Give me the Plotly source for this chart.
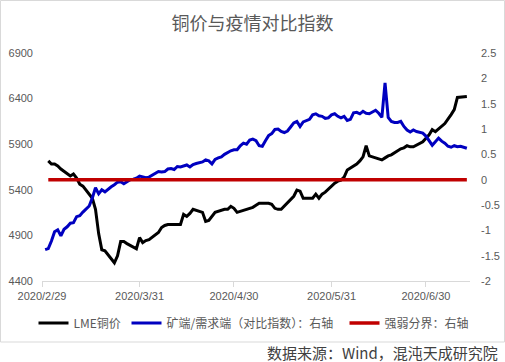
import plotly.graph_objects as go
import pandas as pd

TITLE = "铜价与疫情对比指数"
SOURCE = "数据来源：Wind，混沌天成研究院"

copper_dates = [
    "2020-03-02","2020-03-03","2020-03-04","2020-03-05","2020-03-06",
    "2020-03-09","2020-03-10","2020-03-11","2020-03-12","2020-03-13",
    "2020-03-16","2020-03-17","2020-03-18","2020-03-19","2020-03-20",
    "2020-03-23","2020-03-24","2020-03-25","2020-03-26","2020-03-27",
    "2020-03-30","2020-03-31","2020-04-01","2020-04-02","2020-04-03",
    "2020-04-06","2020-04-07","2020-04-08","2020-04-09","2020-04-10",
    "2020-04-13","2020-04-14","2020-04-15","2020-04-16","2020-04-17",
    "2020-04-20","2020-04-21","2020-04-22","2020-04-23","2020-04-24",
    "2020-04-27","2020-04-28","2020-04-29","2020-04-30","2020-05-01",
    "2020-05-04","2020-05-05","2020-05-06","2020-05-07","2020-05-08",
    "2020-05-11","2020-05-12","2020-05-13","2020-05-14","2020-05-15",
    "2020-05-18","2020-05-19","2020-05-20","2020-05-21","2020-05-22",
    "2020-05-25","2020-05-26","2020-05-27","2020-05-28","2020-05-29",
    "2020-06-01","2020-06-02","2020-06-03","2020-06-04","2020-06-05",
    "2020-06-08","2020-06-09","2020-06-10","2020-06-11","2020-06-12",
    "2020-06-15","2020-06-16","2020-06-17","2020-06-18","2020-06-19",
    "2020-06-22","2020-06-23","2020-06-24","2020-06-25","2020-06-26",
    "2020-06-29","2020-06-30","2020-07-01","2020-07-02","2020-07-03",
    "2020-07-06","2020-07-07","2020-07-08","2020-07-09","2020-07-10",
    "2020-07-13",
]
copper_values = [
    5717,5683,5683,5661,5628,
    5551,5573,5529,5462,5440,
    5307,5186,4920,4743,4732,
    4600,4677,4832,4832,4810,
    4754,4876,4821,4843,4854,
    4931,4987,5009,5020,5020,
    5020,5130,5108,5141,5186,
    5153,5053,5064,5108,5153,
    5186,5186,5219,5197,5153,
    5186,5197,5208,5230,5252,
    5252,5241,5197,5186,5186,
    5285,5329,5396,5385,5307,
    5307,5352,5307,5352,5374,
    5473,5495,5506,5540,5617,
    5683,5717,5761,5883,5772,
    5739,5728,5750,5772,5783,
    5849,5860,5883,5871,5871,
    5927,5960,6004,6059,6037,
    6126,6170,6225,6280,6413,
    6424,
]

index_start = "2020-03-01"
index_values = [
    -1.38,-1.36,-1.21,-1.03,-0.99,-1.11,-0.98,-0.93,-0.86,-0.85,
    -0.73,-0.71,-0.64,-0.58,-0.52,-0.36,-0.16,-0.28,-0.20,-0.24,
    -0.18,-0.14,-0.10,-0.05,-0.04,-0.08,-0.04,0.00,0.01,0.03,
    0.07,0.05,0.04,0.05,0.09,0.13,0.16,0.15,0.16,0.21,
    0.22,0.20,0.26,0.25,0.27,0.29,0.25,0.30,0.32,0.33,
    0.35,0.39,0.37,0.31,0.40,0.43,0.45,0.50,0.54,0.57,
    0.59,0.59,0.67,0.72,0.70,0.78,0.80,0.77,0.67,0.66,
    0.77,0.87,0.91,0.99,1.00,0.95,0.93,0.96,1.04,1.12,
    1.15,1.05,1.14,1.17,1.19,1.28,1.30,1.26,1.25,1.21,
    1.22,1.28,1.30,1.25,1.22,1.25,1.17,1.19,1.32,1.33,
    1.30,1.35,1.31,1.30,1.33,1.37,1.31,1.23,1.91,1.23,
    1.15,1.13,1.13,1.15,1.05,0.98,0.94,0.98,0.95,0.94,
    0.92,0.86,0.77,0.68,0.75,0.82,0.76,0.72,0.66,0.64,
    0.67,0.65,0.66,0.64,0.62,
]
index_dates = pd.date_range(index_start, periods=len(index_values), freq="D")

divide_dates = ["2020-03-02", "2020-07-13"]
divide_values = [0, 0]

x_tick_dates = ["2020-02-29", "2020-03-31", "2020-04-30", "2020-05-31", "2020-06-30"]
x_tick_labels = ["2020/2/29", "2020/3/31", "2020/4/30", "2020/5/31", "2020/6/30"]
left_ticks = [4400, 4900, 5400, 5900, 6400, 6900]
right_ticks = [-2, -1.5, -1, -0.5, 0, 0.5, 1, 1.5, 2, 2.5]
right_labels = ["-2", "-1.5", "-1", "-0.5", "0", "0.5", "1", "1.5", "2", "2.5"]

names = ["LME铜价", "矿端/需求端（对比指数）：右轴", "强弱分界：右轴"]

FONT = "Liberation Sans, Noto Sans CJK SC, sans-serif"
CJK = "Noto Sans CJK SC"
GREY = "#595959"

fig = go.Figure()
fig.add_trace(go.Scatter(x=copper_dates, y=copper_values, name=names[0], mode="lines",
                         line=dict(color="#000000", width=3), yaxis="y", legend="legend"))
fig.add_trace(go.Scatter(x=index_dates, y=index_values, name=names[1], mode="lines",
                         line=dict(color="#0000C0", width=3), yaxis="y2", legend="legend2"))
fig.add_trace(go.Scatter(x=divide_dates, y=divide_values, name=names[2], mode="lines",
                         line=dict(color="#C00000", width=3.5), yaxis="y2", legend="legend3"))

def leg(px):
    return dict(orientation="h", x=(px - 8.5 - 42) / 428, xanchor="left",
                y=-0.184, yanchor="middle", itemwidth=30,
                font=dict(size=12, color=GREY, family=CJK), bgcolor="rgba(0,0,0,0)")

fig.update_layout(
    width=505, height=362,
    margin=dict(l=42, r=35, t=53, b=81, autoexpand=False),
    paper_bgcolor="white", plot_bgcolor="white",
    font=dict(family=FONT, size=11, color=GREY),
    title=dict(text=TITLE, x=0.5, xref="container", y=1 - 24 / 362, yanchor="middle",
               xanchor="center", font=dict(size=18, color=GREY, family=CJK)),
    xaxis=dict(type="date", range=["2020-02-29", "2020-07-14"],
               tickvals=x_tick_dates, ticktext=x_tick_labels,
               showgrid=False, zeroline=False, automargin=False,
               showline=True, linecolor="#d9d9d9", linewidth=1,
               ticks="outside", ticklen=5, tickcolor="#d9d9d9",
               tickfont=dict(size=11, color=GREY)),
    yaxis=dict(range=[4400, 6900], tickvals=left_ticks, showgrid=False, zeroline=False,
               showline=False, ticks="", ticklabelstandoff=8, automargin=False,
               tickfont=dict(size=11, color=GREY)),
    yaxis2=dict(range=[-2, 2.5], tickvals=right_ticks, ticktext=right_labels,
                overlaying="y", side="right", showgrid=False, zeroline=False,
                showline=False, ticks="", ticklabelstandoff=10, automargin=False,
                tickfont=dict(size=11, color=GREY)),
    legend=leg(42),
    legend2=leg(135),
    legend3=leg(353),
    showlegend=True,
)

# outer frame of chart area
fig.add_shape(type="rect", xref="paper", yref="paper",
              x0=(0.5 - 42) / 428, x1=(504.5 - 42) / 428,
              y0=(281 - 342) / 228, y1=(281 - 0.5) / 228,
              line=dict(color="#d9d9d9", width=1), layer="below")

fig.add_annotation(text=SOURCE, xref="paper", yref="paper",
                   x=(500 - 42) / 428, y=(281 - 352) / 228,
                   xanchor="right", yanchor="middle", showarrow=False,
                   font=dict(size=15, color="#404040", family=CJK))

fig.write_html("out.html", config={"displayModeBar": False},
               post_script="document.body.style.margin='0';document.body.style.padding='0';")
